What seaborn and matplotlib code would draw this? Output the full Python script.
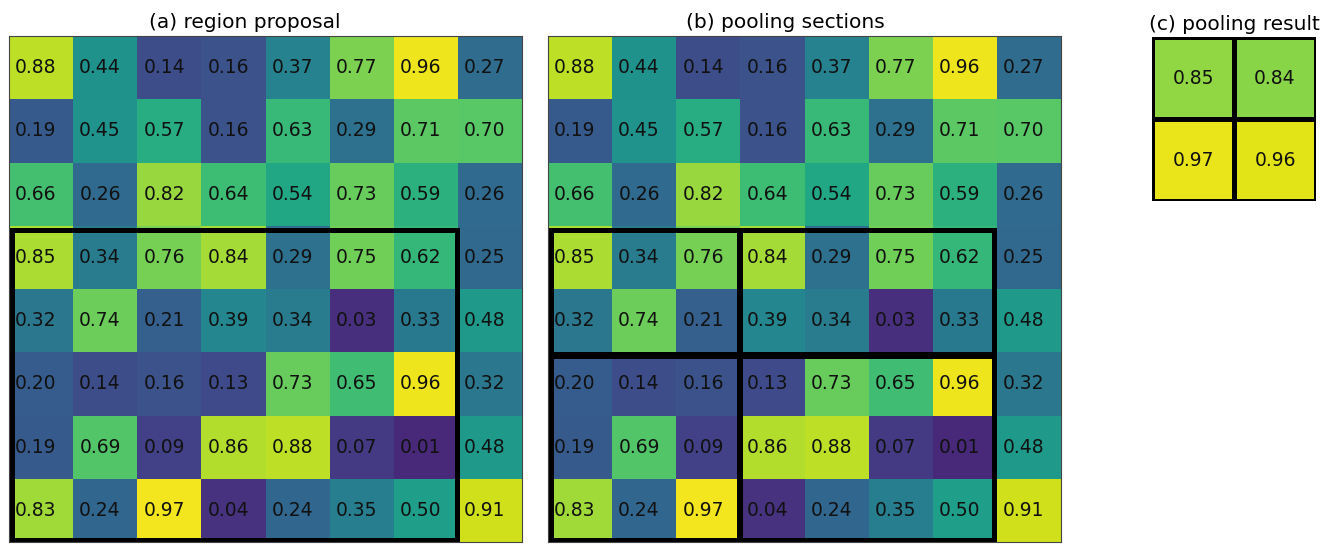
import numpy as np
import matplotlib
matplotlib.use("Agg")
import matplotlib.pyplot as plt
from matplotlib.patches import Rectangle
import seaborn as sns

# 8x8 feature map values, row by row
row0 = [0.88, 0.44, 0.14, 0.16, 0.37, 0.77, 0.96, 0.27]
row1 = [0.19, 0.45, 0.57, 0.16, 0.63, 0.29, 0.71, 0.70]
row2 = [0.66, 0.26, 0.82, 0.64, 0.54, 0.73, 0.59, 0.26]
row3 = [0.85, 0.34, 0.76, 0.84, 0.29, 0.75, 0.62, 0.25]
row4 = [0.32, 0.74, 0.21, 0.39, 0.34, 0.03, 0.33, 0.48]
row5 = [0.20, 0.14, 0.16, 0.13, 0.73, 0.65, 0.96, 0.32]
row6 = [0.19, 0.69, 0.09, 0.86, 0.88, 0.07, 0.01, 0.48]
row7 = [0.83, 0.24, 0.97, 0.04, 0.24, 0.35, 0.50, 0.91]
feature_map = np.array([row0, row1, row2, row3, row4, row5, row6, row7])

# pooling output (2x2)
pool_top = [0.85, 0.84]
pool_bottom = [0.97, 0.96]
pooled = np.array([pool_top, pool_bottom])

titles = ["(a) region proposal", "(b) pooling sections", "(c) pooling result"]

fig = plt.figure(figsize=(13.22, 5.46), dpi=100)
W, H = 1322, 546


def px_axes(x0, y0, x1, y1):
    # pixel box (top-left origin) -> figure axes
    return fig.add_axes([x0 / W, (H - y1) / H, (x1 - x0) / W, (y1 - y0) / H])


ax_a = px_axes(9, 36, 522, 542)
ax_b = px_axes(548, 36, 1061, 542)
ax_c = px_axes(1152, 37, 1316, 201)

for ax in (ax_a, ax_b):
    sns.heatmap(feature_map, ax=ax, cmap="viridis", vmin=-0.12, vmax=0.99,
                cbar=False, annot=True, fmt=".2f",
                annot_kws={"color": "#111111", "size": 13.5},
                xticklabels=False, yticklabels=False)
    for t in ax.texts:
        x, y = t.get_position()
        t.set_position((x - 0.08, y))
    for sp in ax.spines.values():
        sp.set_visible(True)
        sp.set_color("#444444")
        sp.set_linewidth(0.8)

sns.heatmap(pooled, ax=ax_c, cmap="viridis", vmin=0.1, vmax=1.0,
            cbar=False, annot=True, fmt=".2f",
            annot_kws={"color": "#111111", "size": 13.5},
            linewidths=3.6, linecolor="black",
            xticklabels=False, yticklabels=False)

# region proposal box
ax_a.add_patch(Rectangle((0.05, 3.07), 6.93, 4.9, fill=False,
                         edgecolor="black", linewidth=3.6, clip_on=False))

# pooling sections
for (x0, y0, w, h) in [(0.04, 3.07, 2.94, 1.95), (3.0, 3.07, 3.96, 1.95),
                       (0.04, 5.06, 2.94, 2.91), (3.0, 5.06, 3.96, 2.91)]:
    ax_b.add_patch(Rectangle((x0, y0), w, h, fill=False,
                             edgecolor="black", linewidth=3.6, clip_on=False))

ax_a.set_title(titles[0], fontsize=14.5, x=0.459, pad=6)
ax_b.set_title(titles[1], fontsize=14.5, x=0.462, pad=6)
ax_c.set_title(titles[2], fontsize=14.5, pad=5)

fig.savefig("out.png", dpi=100)
